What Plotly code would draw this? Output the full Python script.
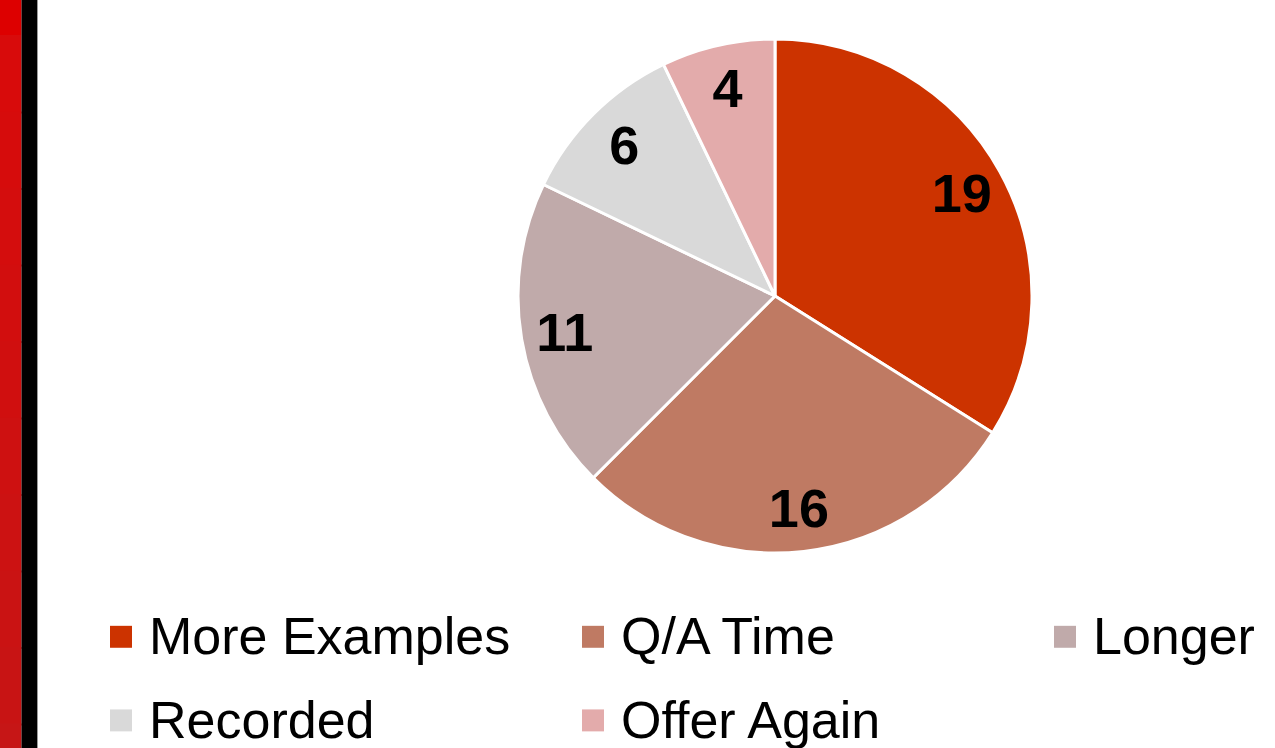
import plotly.graph_objects as go

categories = ["More Examples", "Q/A Time", "Longer", "Recorded", "Offer Again"]
values = [19, 16, 11, 6, 4]
colors = ["#CC3300", "#BF7A63", "#C0AAAA", "#D9D9D9", "#E3ABAB"]

# figure is larger than the 1275x748 window; the window shows its top-left part
W, H = 1600, 800
cx, cy, r = 775, 296, 257
dom = dict(x=[(cx - r) / W, (cx + r) / W], y=[1 - (cy + r) / H, 1 - (cy - r) / H])

legend_labels = [f'<span style="font-size:52px">{c}</span>' for c in categories]

fig = go.Figure()
fig.add_trace(go.Pie(
    labels=legend_labels,
    values=values,
    sort=False,
    direction="clockwise",
    rotation=0,
    marker=dict(colors=colors, line=dict(color="white", width=3)),
    textinfo="none",
    domain=dom,
    showlegend=True,
    hoverinfo="skip",
))
# transparent ring that carries the value labels near the rim
fig.add_trace(go.Pie(
    labels=categories,
    values=values,
    sort=False,
    direction="clockwise",
    rotation=0,
    hole=0.66,
    marker=dict(colors=["rgba(0,0,0,0)"] * len(values), line=dict(width=0)),
    textinfo="value",
    textposition="inside",
    insidetextorientation="horizontal",
    textfont=dict(family="Liberation Sans, Arial", size=54, color="black", weight="bold"),
    domain=dom,
    showlegend=False,
    hoverinfo="skip",
))

shapes = []
steps = 10
for i in range(steps):
    y0 = 35 + (H - 35) * i / steps
    y1 = 35 + (H - 35) * (i + 1) / steps + 2
    t = i / (steps - 1)
    rr = int(0xD8 + (0xC6 - 0xD8) * t)
    gg = int(0x0B + (0x16 - 0x0B) * t)
    shapes.append(dict(type="rect", xref="paper", yref="paper", x0=0, x1=21.5 / W,
                       y0=1 - min(y1, H) / H, y1=1 - y0 / H, fillcolor=f"rgb({rr},{gg},{gg})",
                       line=dict(width=0)))
shapes.append(dict(type="rect", xref="paper", yref="paper", x0=0, x1=21.5 / W,
                   y0=1 - 35 / H, y1=1, fillcolor="#DD0000", line=dict(width=0)))
shapes.append(dict(type="rect", xref="paper", yref="paper", x0=21.5 / W, x1=37 / W,
                   y0=0, y1=1, fillcolor="#000000", line=dict(width=0)))
shapes.append(dict(type="rect", xref="paper", yref="paper", x0=37 / W, x1=38 / W,
                   y0=0, y1=1, fillcolor="#9A9A9A", line=dict(width=0)))

fig.update_layout(
    width=W, height=H,
    margin=dict(l=0, r=0, t=0, b=0),
    paper_bgcolor="white",
    plot_bgcolor="white",
    shapes=shapes,
    legend=dict(
        orientation="h",
        x=109 / W, xanchor="left",
        y=1 - 583 / H, yanchor="top",
        font=dict(family="Liberation Sans, Arial", size=62, color="black"),
        entrywidth=427, entrywidthmode="pixels",
        traceorder="normal",
        itemclick=False, itemdoubleclick=False,
    ),
)

post = """
document.body.style.margin='0';
document.body.style.overflow='hidden';
var gd=document.getElementById('{plot_id}');
gd.querySelectorAll('.legendpoints path').forEach(function(p){
  p.setAttribute('transform','translate(12,7) scale(1.83)');
  p.style.strokeWidth='0';
});
"""

fig.write_html("out.html", post_script=post)
